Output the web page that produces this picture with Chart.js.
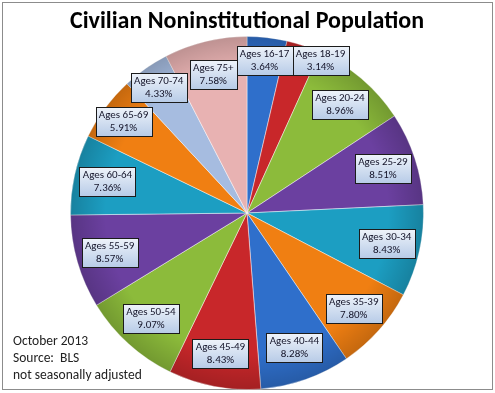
<!DOCTYPE html>
<html>
<head>
<meta charset="utf-8">
<script src="https://cdn.jsdelivr.net/npm/chart.js@4.4.1/dist/chart.umd.min.js"></script>
<style>
  html, body { margin: 0; padding: 0; background: #fff; }
  #wrap { position: relative; width: 495px; height: 393px; }
</style>
</head>
<body>
<div id="wrap"><canvas id="chart" width="495" height="393"></canvas></div>
<script>
// Civilian Noninstitutional Population, October 2013 (BLS)
const chartTitle = 'Civilian Noninstitutional Population';
const ageGroups = ['Ages 16-17', 'Ages 18-19', 'Ages 20-24', 'Ages 25-29', 'Ages 30-34', 'Ages 35-39',
  'Ages 40-44', 'Ages 45-49', 'Ages 50-54', 'Ages 55-59', 'Ages 60-64', 'Ages 65-69', 'Ages 70-74', 'Ages 75+'];
const shares = [3.64, 3.14, 8.96, 8.51, 8.43, 7.80, 8.28, 8.43, 9.07, 8.57, 7.36, 5.91, 4.33, 7.58];
const noteLines = ['October 2013', 'Source:  BLS', 'not seasonally adjusted'];

const sliceColors = ['#2F6FCB', '#C8272A', '#8CBB3B', '#6B40A0', '#1C9EC2', '#F07F12',
  '#2F6FCB', '#C8272A', '#8CBB3B', '#6B40A0', '#1C9EC2', '#F07F12', '#A6BCE0', '#E8B2B2'];

const FONT = 'Carlito, Lato, "Open Sans", sans-serif';

// frame + title + notes
const frame = {
  id: 'frame',
  beforeDraw(chart) {
    const { ctx } = chart;
    ctx.save();
    ctx.strokeStyle = '#8c8c8c';
    ctx.lineWidth = 1;
    ctx.strokeRect(2.5, 2.5, 490, 387);
    ctx.fillStyle = '#000';
    ctx.font = `bold 24px ${FONT}`;
    ctx.textAlign = 'center';
    ctx.textBaseline = 'middle';
    ctx.fillText(chartTitle, 247, 22);
    ctx.font = `13.5px ${FONT}`;
    ctx.textAlign = 'left';
    ctx.fillStyle = '#222';
    noteLines.forEach((t, i) => ctx.fillText(t, 13, 342 + i * 17));
    ctx.restore();
  }
};

// soft rim shading, a bit like the bevel in the original
const shade = {
  id: 'shade',
  afterDatasetsDraw(chart) {
    const arc = chart.getDatasetMeta(0).data[0];
    if (!arc) return;
    const { ctx } = chart;
    const R = arc.outerRadius;
    const g = ctx.createRadialGradient(arc.x, arc.y, R * 0.8, arc.x, arc.y, R);
    g.addColorStop(0, 'rgba(0,0,0,0)');
    g.addColorStop(1, 'rgba(0,0,0,0.18)');
    ctx.save();
    ctx.beginPath();
    ctx.arc(arc.x, arc.y, R, 0, Math.PI * 2);
    ctx.fillStyle = g;
    ctx.fill();
    ctx.restore();
  }
};

// boxed data labels
const boxLabels = {
  id: 'boxLabels',
  afterDatasetsDraw(chart) {
    const { ctx } = chart;
    const arcs = chart.getDatasetMeta(0).data;
    ctx.save();
    ctx.font = `11px ${FONT}`;
    const boxes = [];
    arcs.forEach((arc, i) => {
      const mid = (arc.startAngle + arc.endAngle) / 2;
      const k = shares[i] < 6 ? 0.87 : 0.81;
      const r = arc.outerRadius * k;
      const l1 = ageGroups[i], l2 = shares[i].toFixed(2) + '%';
      const w = Math.ceil(Math.max(ctx.measureText(l1).width, ctx.measureText(l2).width)) + 6;
      const h = 29;
      let cx = arc.x + Math.cos(mid) * r;
      let cy = arc.y + Math.sin(mid) * r;
      const prev = boxes[boxes.length - 1];
      if (prev && Math.abs(prev.cx - cx) < (prev.w + w) / 2 && Math.abs(prev.cy - cy) < h) {
        cx = prev.cx + (prev.w + w) / 2;
        cy = prev.cy;
      }
      boxes.push({ cx, cy, w, h, l1, l2 });
    });
    boxes.forEach(b => {
      const x = Math.round(b.cx - b.w / 2) + 0.5, y = Math.round(b.cy - b.h / 2) + 0.5;
      const g = ctx.createLinearGradient(0, y, 0, y + b.h);
      g.addColorStop(0, '#EEF3FA');
      g.addColorStop(1, '#B7CBE7');
      ctx.fillStyle = g;
      ctx.fillRect(x, y, b.w, b.h);
      ctx.strokeStyle = '#1b1b1b';
      ctx.lineWidth = 1;
      ctx.strokeRect(x, y, b.w, b.h);
      ctx.fillStyle = '#15152a';
      ctx.textAlign = 'center';
      ctx.textBaseline = 'middle';
      ctx.fillText(b.l1, b.cx, y + 8);
      ctx.fillText(b.l2, b.cx, y + 21);
    });
    ctx.restore();
  }
};

new Chart(document.getElementById('chart'), {
  type: 'pie',
  data: {
    labels: ageGroups,
    datasets: [{
      data: shares,
      backgroundColor: sliceColors,
      borderColor: 'rgba(255,255,255,0.45)',
      borderWidth: 1
    }]
  },
  options: {
    responsive: false,
    animation: false,
    layout: { padding: { top: 36, bottom: 3, left: 70, right: 71 } },
    plugins: {
      legend: { display: false },
      title: { display: false },
      tooltip: { enabled: false }
    }
  },
  plugins: [frame, shade, boxLabels]
});
</script>
</body>
</html>
